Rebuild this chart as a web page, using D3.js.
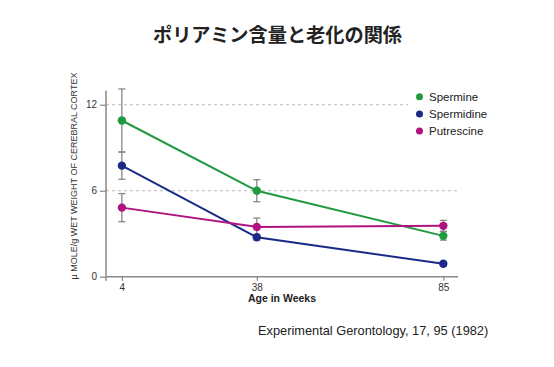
<!DOCTYPE html>
<html><head><meta charset="utf-8">
<script src="https://cdn.jsdelivr.net/npm/d3@7"></script>
<style>
body{margin:0;background:#fff;}
svg{display:block;font-family:"Liberation Sans",Arial,sans-serif;}
</style></head>
<body><svg id="c" width="554" height="367"></svg>
<script>
const weeks = [4, 38, 85];
const seriesNames = ["Spermine", "Spermidine", "Putrescine"];
const spermine = [10.9, 6.0, 2.85];
const spermineErr = [2.2, 0.77, 0.3];
const spermidine = [7.75, 2.75, 0.9];
const spermidineErr = [0.95, 0.2, 0.15];
const putrescine = [4.82, 3.47, 3.55];
const putrescineErr = [0.98, 0.62, 0.38];
const yTicks = [0, 6, 12];
const colors = ["#1f9a3f", "#1b2a87", "#b0127f"];
const title = "ポリアミン含量と老化の関係";
const xLabel = "Age in Weeks";
const yLabel = "\u03bc MOLE/g WET WEIGHT OF CEREBRAL CORTEX";
const citation = "Experimental Gerontology, 17, 95 (1982)";

const svg = d3.select("#c");
const x = d3.scaleLinear().domain([0, 88.7]).range([106, 458]);
const y = d3.scaleLinear().domain([0, 13]).range([276.7, 90.4]);

// title
svg.append("text").attr("x", 277.5).attr("y", 42).attr("text-anchor", "middle")
  .attr("font-family", "'Noto Sans CJK JP'").attr("font-weight", "bold")
  .attr("font-size", 19.2).attr("fill", "#222").text(title);

// gridlines
const gridEnds = {6: 460, 12: 408};
svg.append("g").selectAll("line").data(yTicks.filter(d => d > 0)).join("line")
  .attr("x1", x(0)).attr("x2", d => gridEnds[d])
  .attr("y1", d => y(d)).attr("y2", d => y(d))
  .attr("stroke", "#bbb").attr("stroke-width", 1).attr("stroke-dasharray", "3,3");

// axes
const axisColor = "#888";
const yAxis = svg.append("g").attr("transform", `translate(${x(0)},0)`)
  .call(d3.axisLeft(y).tickValues(yTicks).tickSize(6).tickPadding(3));
yAxis.select(".domain").attr("d", `M0,${y(13)}V${y(0) + 4}`);
const xAxis = svg.append("g").attr("transform", `translate(0,${y(0)})`)
  .call(d3.axisBottom(x).tickValues(weeks).tickSize(4).tickPadding(3));
xAxis.select(".domain").attr("d", `M${x(0)},0H${x(88.7)}`);
[yAxis, xAxis].forEach(g => {
  g.select(".domain").attr("stroke", axisColor).attr("stroke-width", 1.5);
  g.selectAll(".tick line").attr("stroke", axisColor).attr("stroke-width", 1.2);
  g.selectAll(".tick text").attr("fill", "#333").attr("font-size", 10)
    .attr("font-family", "'Liberation Sans',Arial,sans-serif");
});

// axis labels
svg.append("text").attr("x", 282).attr("y", 302).attr("text-anchor", "middle")
  .attr("font-weight", "bold").attr("font-size", 10.5).attr("fill", "#222").text(xLabel);
svg.append("text").attr("transform", "translate(77,176) rotate(-90)")
  .attr("text-anchor", "middle").attr("font-size", 9).attr("fill", "#333").text(yLabel);

// series
const series = [
  {vals: spermine, err: spermineErr},
  {vals: spermidine, err: spermidineErr},
  {vals: putrescine, err: putrescineErr}
].map((s, i) => ({name: seriesNames[i], color: colors[i],
  pts: weeks.map((w, j) => ({w, v: s.vals[j], e: s.err[j]}))}));

// error bars
const eg = svg.append("g");
series.forEach(s => {
  s.pts.forEach(p => {
    const g = eg.append("g").attr("stroke", "#888").attr("stroke-width", 1.3);
    g.append("line").attr("x1", x(p.w)).attr("x2", x(p.w))
      .attr("y1", y(p.v + p.e)).attr("y2", y(p.v - p.e));
    [p.v + p.e, p.v - p.e].forEach(v => g.append("line")
      .attr("x1", x(p.w) - 3.5).attr("x2", x(p.w) + 3.5)
      .attr("y1", y(v)).attr("y2", y(v)));
  });
});

const line = d3.line().x(d => x(d.w)).y(d => y(d.v));
series.forEach(s => {
  svg.append("path").datum(s.pts).attr("d", line).attr("fill", "none")
    .attr("stroke", s.color).attr("stroke-width", 2);
});
series.forEach(s => {
  svg.append("g").selectAll("circle").data(s.pts).join("circle")
    .attr("cx", d => x(d.w)).attr("cy", d => y(d.v)).attr("r", 4.2)
    .attr("fill", s.color);
});

// legend
const lg = svg.append("g");
series.forEach((s, i) => {
  const yy = 96.7 + i * 17.2;
  lg.append("circle").attr("cx", 419.5).attr("cy", yy).attr("r", 3.5).attr("fill", s.color);
  lg.append("text").attr("x", 429).attr("y", yy + 4).attr("font-size", 11.5)
    .attr("fill", "#222").text(s.name);
});

// citation
svg.append("text").attr("x", 258).attr("y", 335).attr("font-size", 12.8)
  .attr("fill", "#222").text(citation);
</script></body></html>
